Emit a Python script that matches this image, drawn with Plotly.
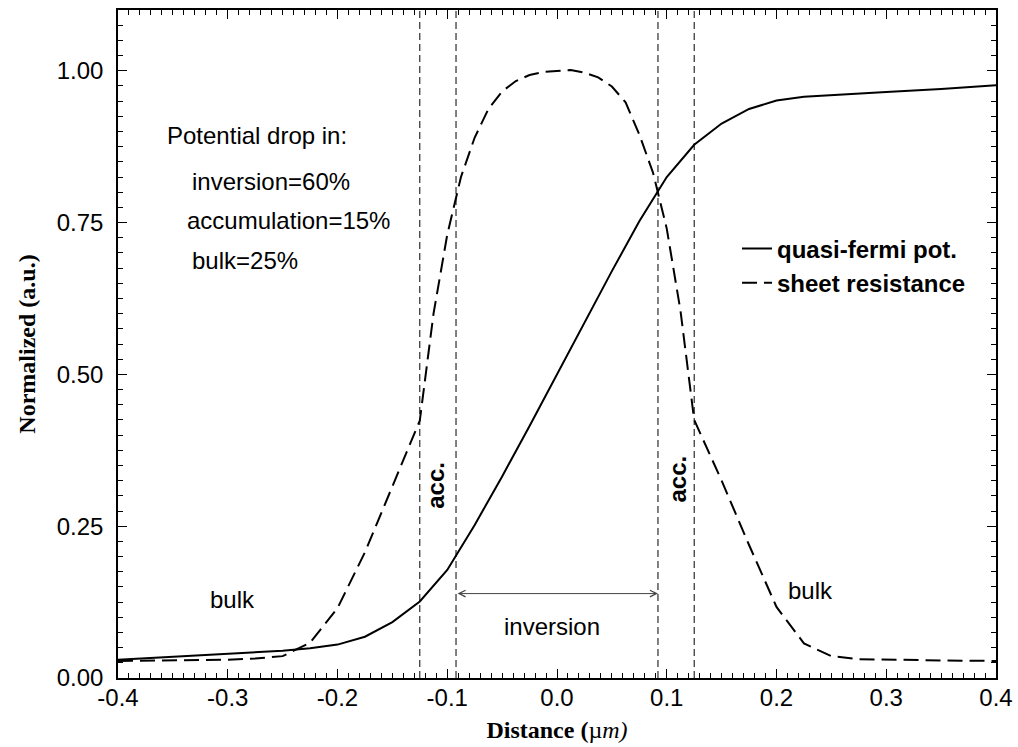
import plotly.graph_objects as go

# Distance grid and normalized quasi-fermi potential
qf_x = [-0.4, -0.35, -0.3, -0.25, -0.225, -0.2, -0.175, -0.15, -0.125, -0.1,
        -0.075, -0.05, -0.025, 0.0, 0.025, 0.05, 0.075, 0.1, 0.125, 0.15,
        0.175, 0.2, 0.225, 0.25, 0.3, 0.35, 0.4]
qf_y = [0.030, 0.035, 0.040, 0.045, 0.049, 0.055, 0.068, 0.092, 0.126, 0.178,
        0.252, 0.332, 0.415, 0.500, 0.586, 0.670, 0.752, 0.825, 0.878, 0.913,
        0.937, 0.951, 0.957, 0.960, 0.965, 0.970, 0.976]

# Normalized sheet resistance
rs_x = [-0.4, -0.35, -0.3, -0.275, -0.25, -0.225, -0.2, -0.175, -0.15, -0.125,
        -0.1125, -0.1, -0.0875, -0.075, -0.0625, -0.05, -0.0375, -0.025, -0.0125,
        0.0, 0.0125, 0.025, 0.0375, 0.05, 0.0625, 0.075, 0.0875, 0.1, 0.1125,
        0.125, 0.15, 0.175, 0.2, 0.225, 0.25, 0.275, 0.3, 0.35, 0.4]
rs_y = [0.028, 0.029, 0.030, 0.032, 0.036, 0.058, 0.115, 0.207, 0.315, 0.424,
        0.600, 0.730, 0.825, 0.890, 0.937, 0.966, 0.983, 0.993, 0.998,
        1.000, 1.001, 0.997, 0.989, 0.974, 0.948, 0.895, 0.832, 0.740, 0.605,
        0.425, 0.325, 0.219, 0.117, 0.057, 0.036, 0.031, 0.030, 0.029, 0.028]

# Region boundaries (accumulation / inversion edges)
boundaries = [-0.125, -0.092, 0.092, 0.125]
inversion_edges = [-0.092, 0.092]
arrow_level = 0.139

x_ticks = [-0.4, -0.3, -0.2, -0.1, 0.0, 0.1, 0.2, 0.3, 0.4]
x_ticktext = ["-0.4", "-0.3", "-0.2", "-0.1", "0.0", "0.1", "0.2", "0.3", "0.4"]
y_ticks = [0.0, 0.25, 0.5, 0.75, 1.0]
y_ticktext = ["0.00", "0.25", "0.50", "0.75", "1.00"]

FONT = "Liberation Sans, Arial, sans-serif"
SERIF = "Liberation Serif, Times New Roman, serif"

fig = go.Figure()
fig.add_trace(go.Scatter(x=qf_x, y=qf_y, mode="lines", name="quasi-fermi pot.",
                         line=dict(color="black", width=2)))
fig.add_trace(go.Scatter(x=rs_x, y=rs_y, mode="lines", name="sheet resistance",
                         line=dict(color="black", width=2, dash="15px,7px")))

for bx in boundaries:
    fig.add_shape(type="line", xref="x", yref="y domain", x0=bx, x1=bx, y0=0, y1=1,
                  line=dict(color="black", width=1, dash="7px,4px"))

# double-headed arrow spanning the inversion layer
fig.add_annotation(x=inversion_edges[1], y=arrow_level, ax=inversion_edges[0], ay=arrow_level,
                   xref="x", yref="y", axref="x", ayref="y", text="", showarrow=True,
                   arrowside="end+start", arrowhead=5, arrowsize=1.3, arrowwidth=1,
                   arrowcolor="#444")

texts = [
    ("Potential drop in:", -0.357, 0.893),
    ("inversion=60%", -0.334, 0.817),
    ("accumulation=15%", -0.339, 0.753),
    ("bulk=25%", -0.334, 0.688),
    ("bulk", -0.318, 0.129),
    ("bulk", 0.2087, 0.144),
    ("inversion", -0.050, 0.0855),
]
for t, tx, ty in texts:
    fig.add_annotation(x=tx, y=ty, text=t, showarrow=False, xanchor="left", yanchor="middle",
                       font=dict(family=FONT, size=24, color="black"))

for tx, ty in [(-0.1104, 0.318), (0.110, 0.328)]:
    fig.add_annotation(x=tx, y=ty, text="acc.", showarrow=False, textangle=-90,
                       xanchor="center", yanchor="middle",
                       font=dict(family=FONT, size=24, color="black", weight="bold"))

axis_common = dict(showline=True, linecolor="black", linewidth=1.5, mirror="ticks",
                   ticks="inside", ticklen=9, tickwidth=1, tickcolor="black",
                   showgrid=False, zeroline=False, automargin=False,
                   tickfont=dict(family=FONT, size=24, color="black"))

fig.update_xaxes(range=[-0.4, 0.4], tickmode="array", tickvals=x_ticks, ticktext=x_ticktext,
                 ticklabelstandoff=-3,
                 minor=dict(dtick=0.01, tick0=0, ticks="inside", ticklen=5, tickwidth=1,
                            tickcolor="black"),
                 title=dict(text="<b>Distance (</b>µ<i>m)</i>", standoff=12,
                            font=dict(family=SERIF, size=24, color="black")),
                 **axis_common)
fig.update_yaxes(range=[0, 1.1], tickmode="array", tickvals=y_ticks, ticktext=y_ticktext,
                 ticklabelstandoff=8,
                 minor=dict(dtick=0.025, tick0=0, ticks="inside", ticklen=5, tickwidth=1,
                            tickcolor="black"),
                 title=dict(text="<b>Normalized (a.u.)</b>", standoff=14,
                            font=dict(family=SERIF, size=24, color="black")),
                 **axis_common)

fig.update_layout(
    width=1018, height=747,
    margin=dict(l=118, r=22, t=10, b=69),
    plot_bgcolor="white", paper_bgcolor="white",
    legend=dict(x=0.705, y=0.676, xanchor="left", yanchor="top",
                bgcolor="rgba(0,0,0,0)", borderwidth=0,
                font=dict(family=FONT, size=24, color="black", weight="bold"),
                tracegroupgap=0),
    showlegend=True,
)

fig.write_html("out.html")
